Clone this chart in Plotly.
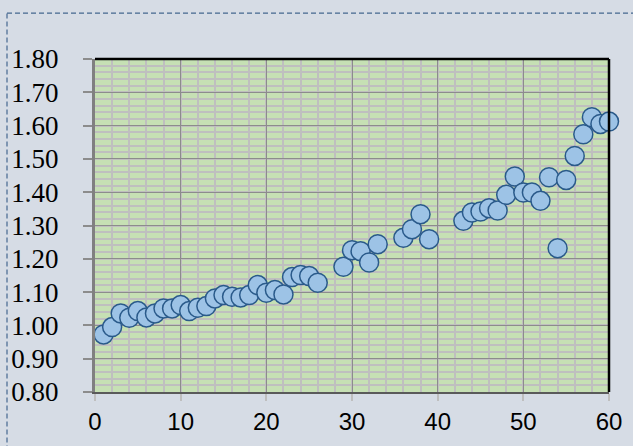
import plotly.graph_objects as go

x_vals = [1, 2, 3, 4, 5, 6, 7, 8, 9, 10, 11, 12, 13, 14, 15, 16, 17, 18, 19, 20,
          21, 22, 23, 24, 25, 26, 29, 30, 31, 32, 33, 36, 37, 38, 39,
          43, 44, 45, 46, 47, 48, 49, 50, 51, 52, 53, 54, 55, 56, 57, 58, 59, 60]
y_vals = [0.973, 0.995, 1.036, 1.023, 1.043, 1.024, 1.036, 1.051, 1.051, 1.061,
          1.043, 1.053, 1.058, 1.081, 1.091, 1.086, 1.084, 1.091, 1.121, 1.098,
          1.106, 1.093, 1.145, 1.151, 1.148, 1.128, 1.176, 1.226, 1.223, 1.189,
          1.244, 1.263, 1.289, 1.334, 1.259,
          1.314, 1.339, 1.342, 1.352, 1.345, 1.392, 1.447, 1.399, 1.399, 1.374,
          1.445, 1.232, 1.437, 1.509, 1.574, 1.625, 1.605, 1.612]
x_ticks = [0, 10, 20, 30, 40, 50, 60]
y_ticks = [0.8, 0.9, 1.0, 1.1, 1.2, 1.3, 1.4, 1.5, 1.6, 1.7, 1.8]
y_tick_text = ["%.2f" % v for v in y_ticks]

fig = go.Figure()
fig.add_trace(go.Scatter(
    x=x_vals, y=y_vals, mode="markers",
    marker=dict(size=19, color="#9DC3E6", line=dict(color="#2A5A8A", width=1.5)),
    cliponaxis=False, showlegend=False,
))

fig.update_layout(
    width=633, height=446,
    margin=dict(l=95, r=24, t=59, b=54),
    paper_bgcolor="#D6DCE5",
    plot_bgcolor="#C6E0B4",
    xaxis=dict(
        range=[0, 60], tickvals=x_ticks, ticktext=[str(v) for v in x_ticks],
        showgrid=True, gridcolor="#8C8C8C", gridwidth=1,
        minor=dict(dtick=2, showgrid=True, gridcolor="#BFBFBF", gridwidth=1.5),
        showline=True, linecolor="#5A5A5A", linewidth=2,
        ticks="outside", ticklen=7, tickcolor="#BFBFBF", tickwidth=1.5,
        ticklabelstandoff=0, automargin=False,
        tickfont=dict(family="Liberation Sans", size=24, color="black"),
        zeroline=False, fixedrange=True,
    ),
    yaxis=dict(
        range=[0.8, 1.8], tickvals=y_ticks, ticktext=y_tick_text,
        showgrid=True, gridcolor="#8C8C8C", gridwidth=1,
        minor=dict(dtick=0.02, showgrid=True, gridcolor="#BFBFBF", gridwidth=1.5),
        showline=True, linecolor="#808080", linewidth=3,
        ticks="outside", ticklen=9, tickcolor="#8C8C8C", tickwidth=1.5,
        ticklabelstandoff=19, automargin=False,
        tickfont=dict(family="Liberation Serif", size=27, color="black"),
        zeroline=False, fixedrange=True,
    ),
    shapes=[
        dict(type="line", xref="paper", yref="paper", x0=0, x1=1, y0=1, y1=1,
             line=dict(color="black", width=2.5)),
        dict(type="line", xref="paper", yref="paper", x0=1, x1=1, y0=0, y1=1,
             line=dict(color="black", width=2.5)),
        dict(type="line", xref="paper", yref="paper", x0=-0.1712, x1=1.1, y0=1.138, y1=1.138,
             line=dict(color="#44678F", width=1.2, dash="5px,3px")),
        dict(type="line", xref="paper", yref="paper", x0=-0.1712, x1=-0.1712, y0=-0.2, y1=1.138,
             line=dict(color="#44678F", width=1.2, dash="5px,3px")),
    ],
)

fig.write_html(
    "out.html",
    config={"displayModeBar": False},
    post_script="document.body.style.margin='0';document.body.style.overflow='hidden';document.body.style.background='#D6DCE5';",
)
